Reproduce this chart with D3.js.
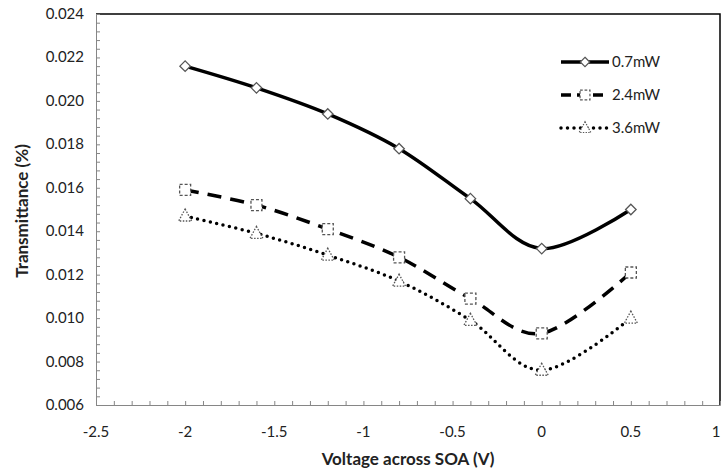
<!DOCTYPE html>
<html>
<head>
<meta charset="utf-8">
<script src="https://cdn.jsdelivr.net/npm/d3@7"></script>
<style>
  body { margin: 0; background: #fff; }
  text { font-family: Lato, "Open Sans", sans-serif; fill: #222; }
</style>
</head>
<body>
<div id="chart"></div>
<script>
// values
const voltages = [-2, -1.6, -1.2, -0.8, -0.4, 0, 0.5]
const p07 = [0.0216, 0.0206, 0.0194, 0.0178, 0.0155, 0.0132, 0.0150]
const p24 = [0.0159, 0.0152, 0.0141, 0.0128, 0.0109, 0.0093, 0.0121]
const p36 = [0.0147, 0.0139, 0.0129, 0.0117, 0.0099, 0.0076, 0.0100]
const seriesNames = ["0.7mW", "2.4mW", "3.6mW"]
const xTicks = [-2.5, -2, -1.5, -1, -0.5, 0, 0.5, 1]
const yTicks = [0.006, 0.008, 0.010, 0.012, 0.014, 0.016, 0.018, 0.020, 0.022, 0.024]

const W = 722, H = 469
const pLeft = 96, pRight = 720, pTop = 14, pBottom = 405

let svg = d3.select("#chart").append("svg")
    .attr("width", W)
    .attr("height", H)

let x = d3.scaleLinear().domain([-2.5, 1]).range([pLeft, pRight])
let y = d3.scaleLinear().domain([0.006, 0.024]).range([pBottom, pTop])

// plot area border (top/right black)
svg.append("path")
    .attr("d", `M${pLeft},${pTop}H${pRight}V${pBottom}`)
    .attr("fill", "none")
    .attr("stroke", "#000")
    .attr("stroke-width", 1.5)

// axes, minor ticks pointing inward
let xAxis = d3.axisTop(x).tickValues(d3.range(-25, 11).map(d => d / 10)).tickSize(4).tickFormat("")
svg.append("g").attr("transform", `translate(0,${pBottom})`).call(xAxis)
    .call(g => g.selectAll("line, path").attr("stroke", "#868686"))
let yAxis = d3.axisRight(y).tickValues(d3.range(0, 46).map(d => 0.006 + d * 0.0004)).tickSize(4).tickFormat("")
svg.append("g").attr("transform", `translate(${pLeft},0)`).call(yAxis)
    .call(g => g.selectAll("line, path").attr("stroke", "#868686"))

// tick labels
svg.selectAll(".xl").data(xTicks).enter().append("text")
    .attr("x", d => Math.min(x(d), 716)).attr("y", 437)
    .attr("text-anchor", "middle")
    .style("font-size", "15px")
    .text(d => d)
svg.selectAll(".yl").data(yTicks).enter().append("text")
    .attr("x", 84).attr("y", d => y(d) + 5)
    .attr("text-anchor", "end")
    .style("font-size", "15px")
    .text(d => d.toFixed(3))

// axis titles
svg.append("text")
    .attr("x", 408).attr("y", 465)
    .attr("text-anchor", "middle")
    .style("font-size", "17px").style("font-weight", "bold")
    .text("Voltage across SOA (V)")
svg.append("text")
    .attr("transform", "translate(28,211) rotate(-90)")
    .attr("text-anchor", "middle")
    .style("font-size", "17px").style("font-weight", "bold")
    .text("Transmittance (%)")

const styles = [
    {dash: null, cap: "butt", marker: "diamond", mdash: null},
    {dash: "14,9", cap: "butt", marker: "square", mdash: "3,2"},
    {dash: "0,6.5", cap: "round", marker: "triangle", mdash: "1.5,1.5"}
]
const allSeries = [p07, p24, p36]

let line = d3.line()
    .x((d, i) => x(voltages[i]))
    .y(d => y(d))
    .curve(d3.curveCatmullRom.alpha(0))

function markerPath(kind) {
    if (kind == "diamond") return d3.symbol(d3.symbolDiamond2, 70)()
    if (kind == "square") return "M-5.5,-5.5H5.5V5.5H-5.5Z"
    return "M0,-7L6.5,5H-6.5Z"
}

allSeries.forEach((vals, k) => {
    let s = styles[k]
    svg.append("path")
        .datum(vals)
        .attr("d", line)
        .attr("fill", "none")
        .attr("stroke", "#000")
        .attr("stroke-width", 3.5)
        .attr("stroke-linecap", s.cap)
        .attr("stroke-dasharray", s.dash)
    svg.selectAll(".m" + k).data(vals).enter().append("path")
        .attr("d", markerPath(s.marker))
        .attr("transform", (d, i) => `translate(${x(voltages[i])},${y(d)})`)
        .attr("fill", "#fff")
        .attr("stroke", "#555")
        .attr("stroke-width", 1.3)
        .attr("stroke-dasharray", s.mdash)
})

// legend
let legend = svg.append("g")
seriesNames.forEach((name, k) => {
    let s = styles[k]
    let ly = 62 + k * 33
    legend.append("line")
        .attr("x1", 561).attr("x2", 609).attr("y1", ly).attr("y2", ly)
        .attr("stroke", "#000").attr("stroke-width", 3.5)
        .attr("stroke-linecap", s.cap)
        .attr("stroke-dasharray", k == 1 ? "10,6" : s.dash)
    legend.append("path")
        .attr("d", markerPath(s.marker))
        .attr("transform", `translate(585,${ly}) scale(0.9)`)
        .attr("fill", "#fff").attr("stroke", "#555").attr("stroke-width", 1.3)
        .attr("stroke-dasharray", s.mdash)
    legend.append("text")
        .attr("x", 612).attr("y", ly + 5)
        .style("font-size", "15px")
        .text(name)
})
</script>
</body>
</html>
